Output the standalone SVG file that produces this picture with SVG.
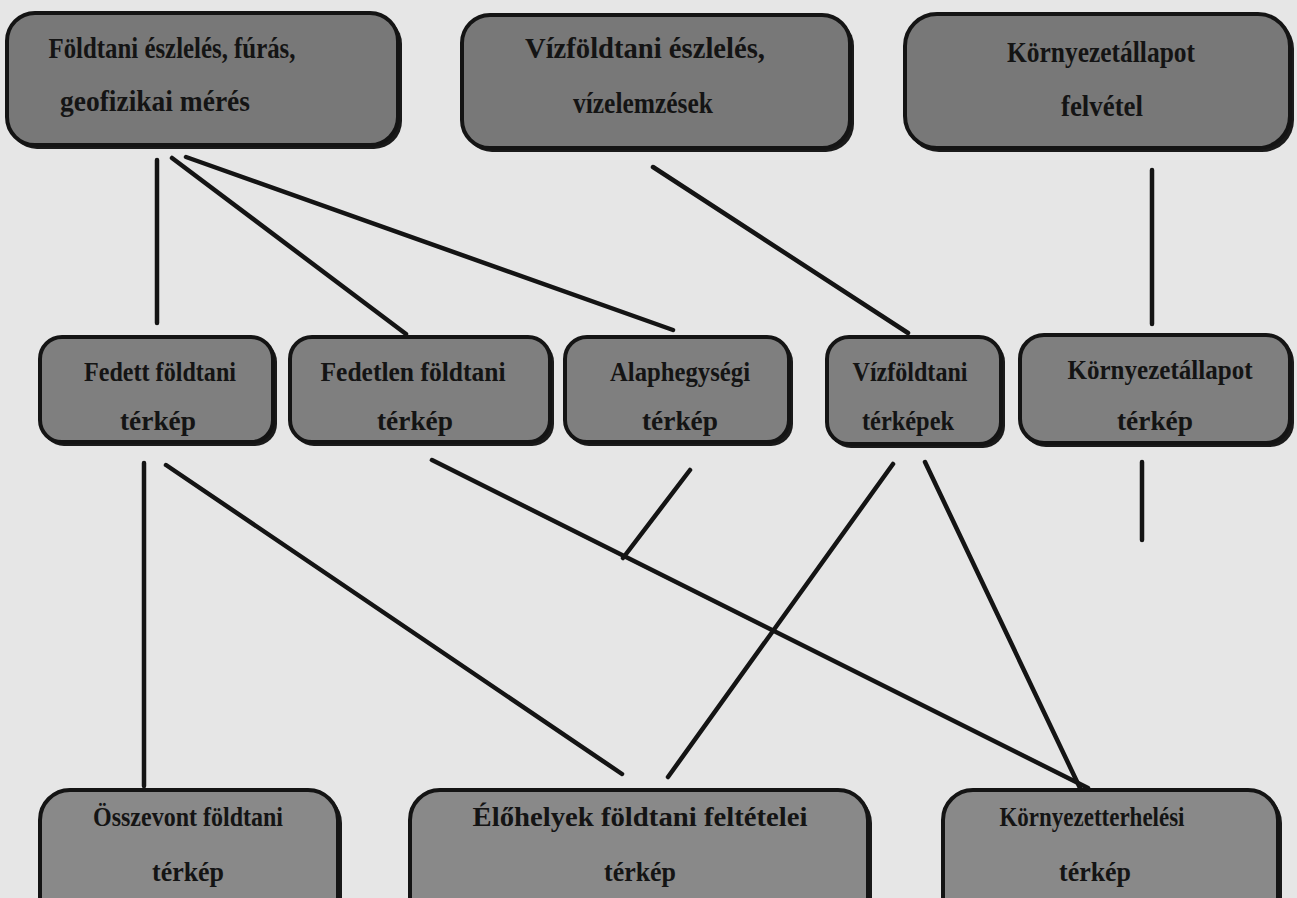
<svg xmlns="http://www.w3.org/2000/svg" width="1297" height="898" viewBox="0 0 1297 898">
<style>
.bg{fill:#e6e6e6}
.shadow{fill:#1a1a1a}
.box{stroke:#141414;stroke-width:4}
.top{fill:#787878}
.mid{fill:#7f7f7f}
.bot{fill:#898989}
.t{font-family:"Liberation Serif","Times New Roman",serif;font-weight:bold;fill:#141414;text-anchor:middle}
.t1{font-size:30px}
.t2{font-size:27px}
.ln{stroke:#141414;stroke-width:4.5;stroke-linecap:round;fill:none}
</style>
<rect class="bg" x="0" y="0" width="1297" height="898"/>
<g id="connectors">
<line class="ln" x1="157" y1="160" x2="157" y2="323"/>
<line class="ln" x1="172" y1="158" x2="406" y2="334"/>
<line class="ln" x1="186" y1="157" x2="673" y2="330"/>
<line class="ln" x1="653" y1="167" x2="908" y2="333"/>
<line class="ln" x1="1152" y1="170" x2="1152" y2="324"/>
<line class="ln" x1="144" y1="463" x2="144" y2="786"/>
<line class="ln" x1="166" y1="465" x2="622" y2="774"/>
<line class="ln" x1="432" y1="460" x2="1088" y2="788"/>
<line class="ln" x1="690" y1="470" x2="623" y2="558"/>
<line class="ln" x1="893" y1="464" x2="668" y2="777"/>
<line class="ln" x1="925" y1="462" x2="1080" y2="788"/>
<line class="ln" x1="1142" y1="462" x2="1142" y2="540"/>
</g>
<g id="n-foldtani-eszleles">
<rect class="shadow" x="9" y="16" width="393" height="133" rx="28"/>
<rect class="box top" x="7" y="13" width="391" height="132" rx="28"/>
<text class="t t1" x="172" y="58" textLength="247" lengthAdjust="spacingAndGlyphs">Földtani észlelés, fúrás,</text>
<text class="t t1" x="155" y="111" textLength="190" lengthAdjust="spacingAndGlyphs">geofizikai mérés</text>
</g>
<g id="n-vizfoldtani-eszleles">
<rect class="shadow" x="464" y="18" width="390" height="134" rx="28"/>
<rect class="box top" x="462" y="15" width="388" height="133" rx="28"/>
<text class="t t1" x="645" y="58" textLength="240" lengthAdjust="spacingAndGlyphs">Vízföldtani észlelés,</text>
<text class="t t1" x="643" y="113" textLength="140" lengthAdjust="spacingAndGlyphs">vízelemzések</text>
</g>
<g id="n-kornyezetallapot-felvetel">
<rect class="shadow" x="907" y="17" width="387" height="135" rx="32"/>
<rect class="box top" x="905" y="14" width="385" height="134" rx="32"/>
<text class="t t1" x="1101" y="62" textLength="188" lengthAdjust="spacingAndGlyphs">Környezetállapot</text>
<text class="t t1" x="1102" y="116" textLength="82" lengthAdjust="spacingAndGlyphs">felvétel</text>
</g>
<g id="n-fedett">
<rect class="shadow" x="42" y="340" width="235" height="106" rx="22"/>
<rect class="box mid" x="40" y="337" width="233" height="105" rx="22"/>
<text class="t t2" x="160" y="381" textLength="152" lengthAdjust="spacingAndGlyphs">Fedett földtani</text>
<text class="t t2" x="158" y="430" textLength="76" lengthAdjust="spacingAndGlyphs">térkép</text>
</g>
<g id="n-fedetlen">
<rect class="shadow" x="292" y="340" width="262" height="106" rx="22"/>
<rect class="box mid" x="290" y="337" width="260" height="105" rx="22"/>
<text class="t t2" x="413" y="381" textLength="185" lengthAdjust="spacingAndGlyphs">Fedetlen földtani</text>
<text class="t t2" x="415" y="430" textLength="76" lengthAdjust="spacingAndGlyphs">térkép</text>
</g>
<g id="n-alaphegysegi">
<rect class="shadow" x="567" y="340" width="226" height="106" rx="22"/>
<rect class="box mid" x="565" y="337" width="224" height="105" rx="22"/>
<text class="t t2" x="680" y="381" textLength="140" lengthAdjust="spacingAndGlyphs">Alaphegységi</text>
<text class="t t2" x="680" y="430" textLength="76" lengthAdjust="spacingAndGlyphs">térkép</text>
</g>
<g id="n-vizfoldtani-terkepek">
<rect class="shadow" x="829" y="340" width="176" height="108" rx="22"/>
<rect class="box mid" x="827" y="337" width="174" height="107" rx="22"/>
<text class="t t2" x="910" y="381" textLength="115" lengthAdjust="spacingAndGlyphs">Vízföldtani</text>
<text class="t t2" x="908" y="430" textLength="92" lengthAdjust="spacingAndGlyphs">térképek</text>
</g>
<g id="n-kornyezetallapot-terkep">
<rect class="shadow" x="1022" y="338" width="272" height="109" rx="24"/>
<rect class="box mid" x="1020" y="335" width="270" height="108" rx="24"/>
<text class="t t2" x="1160" y="379" textLength="185" lengthAdjust="spacingAndGlyphs">Környezetállapot</text>
<text class="t t2" x="1155" y="430" textLength="76" lengthAdjust="spacingAndGlyphs">térkép</text>
</g>
<g id="n-osszevont">
<rect class="shadow" x="42" y="793" width="300" height="140" rx="30"/>
<rect class="box bot" x="40" y="790" width="298" height="140" rx="30"/>
<text class="t t2" x="188" y="826" textLength="190" lengthAdjust="spacingAndGlyphs">Összevont földtani</text>
<text class="t t2" x="188" y="881" textLength="72" lengthAdjust="spacingAndGlyphs">térkép</text>
</g>
<g id="n-elohelyek">
<rect class="shadow" x="412" y="793" width="460" height="140" rx="30"/>
<rect class="box bot" x="410" y="790" width="458" height="140" rx="30"/>
<text class="t t2" x="640" y="826" textLength="335" lengthAdjust="spacingAndGlyphs">Élőhelyek földtani feltételei</text>
<text class="t t2" x="640" y="881" textLength="72" lengthAdjust="spacingAndGlyphs">térkép</text>
</g>
<g id="n-kornyezetterhelesi">
<rect class="shadow" x="945" y="793" width="337" height="140" rx="30"/>
<rect class="box bot" x="943" y="790" width="335" height="140" rx="30"/>
<text class="t t2" x="1092" y="826" textLength="185" lengthAdjust="spacingAndGlyphs">Környezetterhelési</text>
<text class="t t2" x="1095" y="881" textLength="72" lengthAdjust="spacingAndGlyphs">térkép</text>
</g>
</svg>
